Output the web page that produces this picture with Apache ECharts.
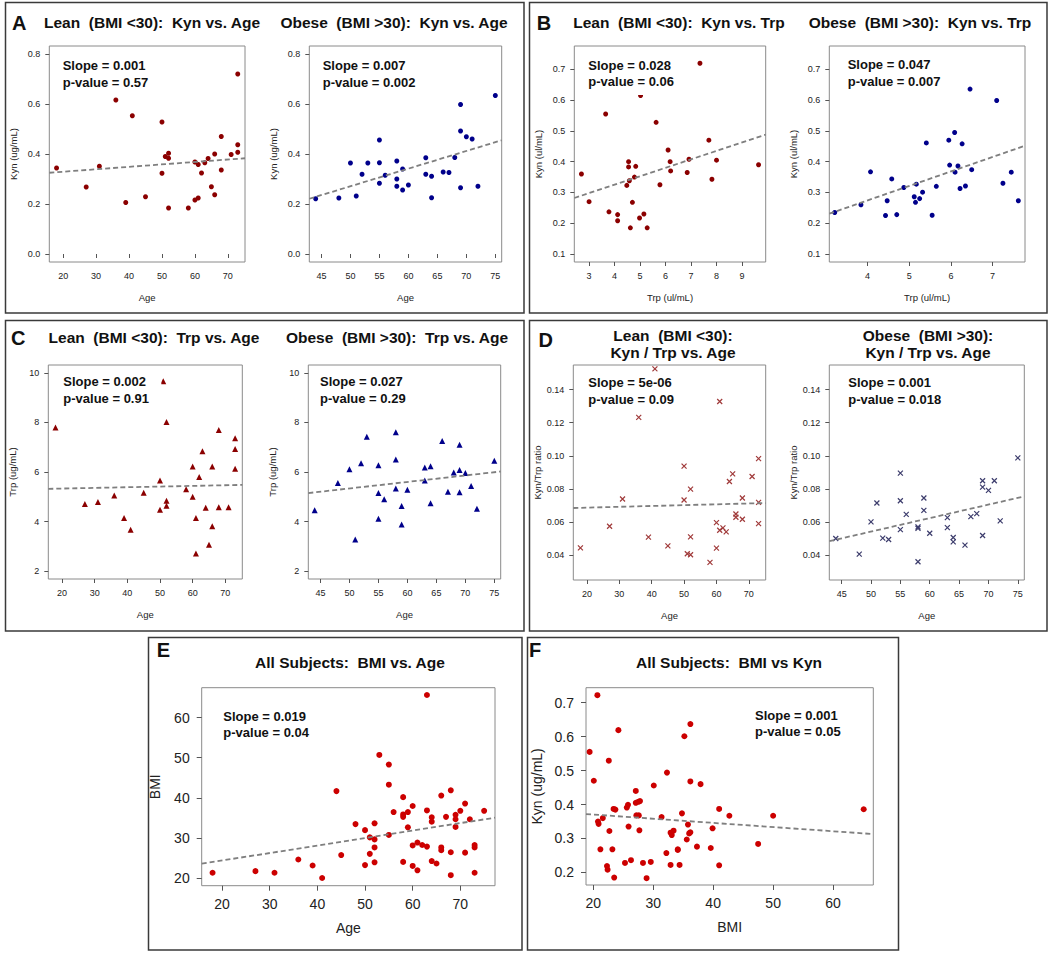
<!DOCTYPE html>
<html><head><meta charset="utf-8">
<script src="https://cdn.jsdelivr.net/npm/echarts@6/dist/echarts.min.js"></script>
<style>html,body{margin:0;padding:0;background:#fff}#c{width:1050px;height:953px}</style>
</head><body><div id="c"></div>
<script>
// ---------------- DATA ----------------
// A: Kyn vs Age
const A_lean_age = [18,27,31,36,39,41,45,50,50,51,52,52,52,58,60,60,61,61,62,63,64,65,66,66,68,68,71,73,73,73];
const A_lean_kyn = [0.344,0.268,0.351,0.616,0.206,0.553,0.229,0.528,0.323,0.39,0.403,0.383,0.184,0.184,0.368,0.216,0.358,0.224,0.324,0.365,0.382,0.269,0.4,0.237,0.47,0.336,0.398,0.72,0.437,0.407];
const A_lean_fit = [[15.8,0.325],[75.2,0.383]];
const A_obese_age = [44,48,50,51,52,53,55,55,55,56,58,58,58,59,59,60,63,63,64,64,66,67,68,69,69,69,70,71,72,75];
const A_obese_kyn = [0.221,0.224,0.364,0.232,0.319,0.364,0.456,0.365,0.283,0.315,0.372,0.30,0.271,0.34,0.256,0.276,0.385,0.319,0.311,0.225,0.328,0.326,0.386,0.598,0.492,0.265,0.469,0.46,0.271,0.634];
const A_obese_fit = [[42.9,0.221],[76.1,0.455]];
// B: Kyn vs Trp
const B_lean_trp = [2.7,3.0,3.65,3.78,4.12,4.12,4.48,4.55,4.55,4.58,4.62,4.7,4.78,4.83,4.98,5.02,5.15,5.28,5.63,5.78,6.1,6.18,6.2,6.85,6.92,7.35,7.7,7.82,8.0,9.65];
const B_lean_kyn = [0.36,0.27,0.555,0.237,0.228,0.208,0.323,0.40,0.383,0.338,0.185,0.268,0.35,0.385,0.217,0.615,0.23,0.185,0.528,0.325,0.438,0.40,0.37,0.365,0.408,0.72,0.47,0.343,0.405,0.39];
const B_lean_fit = [[2.42,0.282],[9.93,0.488]];
const B_obese_trp = [3.21,3.84,4.07,4.43,4.47,4.58,4.7,4.87,5.12,5.15,5.17,5.25,5.32,5.41,5.55,5.65,5.95,5.97,6.09,6.1,6.17,6.22,6.27,6.35,6.46,6.5,7.1,7.25,7.45,7.62];
const B_obese_kyn = [0.235,0.26,0.367,0.225,0.273,0.344,0.228,0.316,0.286,0.268,0.327,0.28,0.301,0.461,0.226,0.32,0.47,0.389,0.495,0.366,0.386,0.313,0.458,0.321,0.636,0.374,0.599,0.33,0.366,0.273];
const B_obese_fit = [[3.08,0.231],[7.78,0.452]];
// C: Trp vs Age
const C_lean_age = [18,27,31,36,39,41,45,50,50,51,52,52,52,58,60,60,61,61,62,63,64,65,66,66,68,68,71,73,73,73];
const C_lean_trp = [7.8,4.71,4.79,5.05,4.14,3.67,5.16,5.66,4.48,9.66,8.02,4.84,4.64,5.3,6.22,5.0,4.14,2.71,5.8,6.84,4.56,3.06,6.22,3.81,7.7,4.58,4.58,7.36,6.93,6.13];
const C_lean_fit = [[15.8,5.32],[75.2,5.48]];
const C_obese_age = [44,48,50,51,52,53,55,55,55,56,58,58,58,59,59,60,63,63,64,64,66,67,68,69,69,69,70,71,72,75];
const C_obese_trp = [4.46,5.56,6.11,3.27,6.35,7.42,6.27,5.15,4.11,4.9,7.6,6.5,5.33,4.63,3.88,5.28,6.18,5.66,6.23,4.74,7.25,5.2,5.98,7.1,6.08,5.18,5.96,5.43,4.52,6.45];
const C_obese_fit = [[42.9,5.15],[76.1,6.02]];
// D: Kyn/Trp vs Age
const D_lean_age = [18,27,31,36,39,41,45,50,50,51,52,52,52,58,60,60,61,61,62,63,64,65,66,66,68,68,71,73,73,73];
const D_lean_ratio = [0.0446,0.0576,0.074,0.1232,0.051,0.1525,0.0458,0.0938,0.0734,0.041,0.080,0.0512,0.0404,0.0358,0.0598,0.0444,0.1328,0.0552,0.0566,0.0542,0.0846,0.0892,0.065,0.063,0.0746,0.0618,0.0876,0.0984,0.072,0.0592];
const D_lean_fit = [[15.8,0.0686],[75.2,0.0716]];
const D_obese_age = [44,48,50,51,52,53,55,55,55,56,58,58,58,59,59,60,63,63,64,64,66,67,68,69,69,69,70,71,72,75];
const D_obese_ratio = [0.0502,0.0408,0.0602,0.0716,0.0504,0.0496,0.0896,0.073,0.0556,0.0648,0.0572,0.0564,0.0362,0.0746,0.0672,0.0534,0.0628,0.0568,0.0508,0.0482,0.0462,0.0634,0.0652,0.085,0.0812,0.052,0.0792,0.085,0.0608,0.0988];
const D_obese_fit = [[42.9,0.0486],[76.1,0.0756]];
// E: BMI vs Age (all subjects)
const E_age = [18,27,31,36,39,41,44,45,48,50,50,51,51,52,52,52,52,53,55,55,55,56,58,58,58,58,59,59,60,60,60,61,61,62,63,63,63,64,64,64,65,66,66,66,67,68,68,68,69,69,69,70,71,71,72,73,73,73,75];
const E_bmi = [21.4,21.8,21.4,24.7,23.2,20.1,41.7,25.8,33.5,32.0,23.3,30.2,26.1,33.7,29.7,27.7,24.0,50.7,48.3,43.3,30.8,36.5,40.2,35.9,35.3,24.1,36.5,32.7,38.0,28.2,23.1,28.9,22.0,28.3,65.6,36.9,27.9,35.2,34.1,24.3,23.7,40.6,27.7,27.0,35.3,41.9,26.5,20.8,35.8,34.7,32.8,36.8,38.6,26.4,34.7,28.3,27.7,21.4,36.8];
const E_fit = [[15.72,23.65],[77.28,35.1]];
// F: Kyn vs BMI (all subjects)
const F_bmi = [19.4,20.1,20.7,20.8,20.9,21.2,21.6,22.3,22.4,22.6,22.7,23.2,23.4,23.5,23.7,24.2,25.3,25.6,25.8,25.9,26.3,27.1,27.1,27.2,27.5,27.6,27.7,27.8,28.3,28.9,29.6,30.1,31.4,32.2,32.3,32.9,33.1,32.9,33.4,34.1,34.1,34.4,34.8,35.2,35.6,35.8,36.2,36.2,36.0,36.2,37.3,37.9,39.6,39.9,41.0,41.0,42.7,47.5,50.0,65.1];
const F_kyn = [0.555,0.47,0.722,0.35,0.343,0.268,0.36,0.219,0.208,0.529,0.322,0.268,0.387,0.185,0.385,0.619,0.228,0.391,0.399,0.335,0.236,0.44,0.405,0.368,0.408,0.368,0.324,0.41,0.228,0.183,0.231,0.456,0.363,0.257,0.494,0.317,0.31,0.222,0.323,0.268,0.266,0.222,0.374,0.601,0.297,0.341,0.637,0.468,0.315,0.318,0.276,0.46,0.272,0.33,0.387,0.221,0.367,0.284,0.367,0.386];
const F_fit = [[18.8,0.372],[66.7,0.313]];

// tick values
const AGE_TICKS = [20,30,40,50,60,70];
const AGE_TICKS_OBESE = [45,50,55,60,65,70,75];
const KYN_TICKS_A = [0.0,0.2,0.4,0.6,0.8];
const TRP_TICKS_B_LEAN = [3,4,5,6,7,8,9];
const TRP_TICKS_B_OBESE = [4,5,6,7];
const KYN_TICKS_B = [0.1,0.2,0.3,0.4,0.5,0.6,0.7];
const TRP_TICKS_C = [2,4,6,8,10];
const RATIO_TICKS_D = [0.04,0.06,0.08,0.10,0.12,0.14];
const BMI_TICKS_E = [20,30,40,50,60];
const BMI_TICKS_F = [20,30,40,50,60];
const KYN_TICKS_F = [0.2,0.3,0.4,0.5,0.6,0.7];

// annotation texts
const TITLES = [
  ['Lean  (BMI <30):  Kyn vs. Age', 152, 22.7],
  ['Obese  (BMI >30):  Kyn vs. Age', 394, 22.7],
  ['Lean  (BMI <30):  Kyn vs. Trp', 679, 22.7],
  ['Obese  (BMI >30):  Kyn vs. Trp', 920, 22.7],
  ['Lean  (BMI <30):  Trp vs. Age', 154, 337.7],
  ['Obese  (BMI >30):  Trp vs. Age', 397, 337.7],
  ['Lean  (BMI <30):', 673, 335],
  ['Kyn / Trp vs. Age', 673, 352.7],
  ['Obese  (BMI >30):', 928, 335],
  ['Kyn / Trp vs. Age', 928, 352.7],
  ['All Subjects:  BMI vs. Age', 350, 662.7],
  ['All Subjects:  BMI vs Kyn', 729, 662.7]
];
const LETTERS = [['A',19.3,22.7],['B',544,22.7],['C',18.3,338.3],['D',545.7,340],['E',163.3,650],['F',535,650]];
const STATS = [
  ['Slope = 0.001','p-value = 0.57'],
  ['Slope = 0.007','p-value = 0.002'],
  ['Slope = 0.028','p-value = 0.06'],
  ['Slope = 0.047','p-value = 0.007'],
  ['Slope = 0.002','p-value = 0.91'],
  ['Slope = 0.027','p-value = 0.29'],
  ['Slope = 5e-06','p-value = 0.09'],
  ['Slope = 0.001','p-value = 0.018'],
  ['Slope = 0.019','p-value = 0.04'],
  ['Slope = 0.001','p-value = 0.05']
];

// ---------------- LAYOUT / STYLE ----------------
const FONT = '"Liberation Sans", Arial, Helvetica, sans-serif';
const LEAN = '#8b0000', OBESE = '#00008b', ALLC = '#cc0000';
const XMARK = 'path://M0,0L10,10M10,0L0,10';

const P = [
 {g:[49.3,46,195.7,216], xr:[15.8,75.2], xt:AGE_TICKS, yr:[-0.032,0.832], yt:KYN_TICKS_A, yd:1, xn:'Age', yn:'Kyn (ug/mL)', xs:A_lean_age, ys:A_lean_kyn, fit:A_lean_fit, sym:'circle', ss:5, col:LEAN, lg:[62.7,65.7]},
 {g:[309.3,46,192.4,216], xr:[42.9,76.1], xt:AGE_TICKS_OBESE, yr:[-0.032,0.832], yt:KYN_TICKS_A, yd:1, xn:'Age', yn:'Kyn (ug/mL)', xs:A_obese_age, ys:A_obese_kyn, fit:A_obese_fit, sym:'circle', ss:5, col:OBESE, lg:[322.7,65.7]},
 {g:[574.3,46,191.4,216], xr:[2.42,9.93], xt:TRP_TICKS_B_LEAN, yr:[0.074,0.776], yt:KYN_TICKS_B, yd:1, xn:'Trp (ul/mL)', yn:'Kyn (ul/mL)', xs:B_lean_trp, ys:B_lean_kyn, fit:B_lean_fit, sym:'circle', ss:5, col:LEAN, lg:[588.3,65]},
 {g:[829.3,46,195.7,216], xr:[3.08,7.78], xt:TRP_TICKS_B_OBESE, yr:[0.074,0.776], yt:KYN_TICKS_B, yd:1, xn:'Trp (ul/mL)', yn:'Kyn (ul/mL)', xs:B_obese_trp, ys:B_obese_kyn, fit:B_obese_fit, sym:'circle', ss:5, col:OBESE, lg:[847.7,64.5]},
 {g:[48.3,365,194,214], xr:[15.8,75.2], xt:AGE_TICKS, yr:[1.68,10.32], yt:TRP_TICKS_C, yd:0, xn:'Age', yn:'Trp (ug/mL)', xs:C_lean_age, ys:C_lean_trp, fit:C_lean_fit, sym:'triangle', ss:6, col:LEAN, lg:[63.3,381.7]},
 {g:[308.3,365,192.4,214], xr:[42.9,76.1], xt:AGE_TICKS_OBESE, yr:[1.68,10.32], yt:TRP_TICKS_C, yd:0, xn:'Age', yn:'Trp (ug/mL)', xs:C_obese_age, ys:C_obese_trp, fit:C_obese_fit, sym:'triangle', ss:6, col:OBESE, lg:[320,381.7]},
 {g:[573.3,365,192.4,215], xr:[15.8,75.2], xt:AGE_TICKS, yr:[0.0252,0.1548], yt:RATIO_TICKS_D, yd:2, xn:'Age', yn:'Kyn/Trp ratio', xs:D_lean_age, ys:D_lean_ratio, fit:D_lean_fit, sym:XMARK, ss:5, col:'#a03a3a', xm:true, lg:[588.3,382.7]},
 {g:[829.3,365,195,215], xr:[42.9,76.1], xt:AGE_TICKS_OBESE, yr:[0.0252,0.1548], yt:RATIO_TICKS_D, yd:2, xn:'Age', yn:'Kyn/Trp ratio', xs:D_obese_age, ys:D_obese_ratio, fit:D_obese_fit, sym:XMARK, ss:5, col:'#3c3c6c', xm:true, lg:[848.3,382.7]},
 {g:[201.7,687.7,293.3,198], xr:[15.72,77.28], xt:AGE_TICKS, yr:[18.18,67.42], yt:BMI_TICKS_E, yd:0, xn:'Age', yn:'BMI', xs:E_age, ys:E_bmi, fit:E_fit, sym:'circle', ss:6, col:ALLC, big:true, lg:[223.3,716]},
 {g:[586,687.7,287.3,197.3], xr:[18.8,66.7], xt:BMI_TICKS_F, yr:[0.163,0.744], yt:KYN_TICKS_F, yd:1, xn:'BMI', yn:'Kyn (ug/mL)', xs:F_bmi, ys:F_kyn, fit:F_fit, sym:'circle', ss:6, col:ALLC, big:true, lg:[755,715]}
];

const grids = [], xAxes = [], yAxes = [], series = [], graphics = [];
P.forEach((p, i) => {
  const big = !!p.big;
  const tickFs = big ? 14 : 9;
  const nameFs = big ? 14 : 9.5;
  grids.push({left:p.g[0], top:p.g[1], width:p.g[2], height:p.g[3], show:true, borderColor:'#8a8a8a', borderWidth:1, backgroundColor:'#fff'});
  xAxes.push({
    gridIndex:i, type:'value', min:p.xr[0], max:p.xr[1],
    axisLine:{show:false}, splitLine:{show:false},
    axisTick:{show:true, customValues:p.xt, length:big?5:4, lineStyle:{color:'#555'}},
    axisLabel:{customValues:p.xt, fontSize:tickFs, color:'#222', fontFamily:FONT, margin:big?11:9,
      formatter:v => String(v)},
    name:p.xn, nameLocation:'middle', nameGap:big?35:30,
    nameTextStyle:{fontSize:nameFs, color:'#222', fontFamily:FONT}
  });
  yAxes.push({
    gridIndex:i, type:'value', min:p.yr[0], max:p.yr[1],
    axisLine:{show:false}, splitLine:{show:false},
    axisTick:{show:true, customValues:p.yt, length:big?5:4, lineStyle:{color:'#555'}},
    axisLabel:{customValues:p.yt, fontSize:tickFs, color:'#222', fontFamily:FONT, margin:big?12:9,
      formatter:(d => v => Number(v).toFixed(d))(p.yd)},
    name:p.yn, nameLocation:'middle', nameGap:big?(p.yn==='BMI'?40:42):31, nameRotate:90,
    nameTextStyle:{fontSize:nameFs, color:'#222', fontFamily:FONT}
  });
  series.push({
    type:'scatter', xAxisIndex:i, yAxisIndex:i, silent:true, animation:false,
    data:p.xs.map((v,k)=>[v,p.ys[k]]),
    symbol:p.sym, symbolSize:p.ss,
    itemStyle: p.xm ? {color:'none', borderColor:p.col, borderWidth:1.2, opacity:1} : {color:p.col, opacity:1},
    z:2
  });
  series.push({
    type:'line', xAxisIndex:i, yAxisIndex:i, silent:true, animation:false,
    data:p.fit, symbol:'none', showSymbol:false,
    lineStyle:{type:[5,3], color:'#7f7f7f', width:1.8}, z:3
  });
  // legend box (white background, like R legend) + stats text
  graphics.push({type:'rect', z:50, shape:{x:p.lg[0]-6, y:p.lg[1]-11, width:104, height:41}, style:{fill:'#fff'}});
  graphics.push({type:'text', z:51, x:p.lg[0], y:p.lg[1], style:{text:STATS[i][0], font:'bold 13px '+FONT, fill:'#111', align:'left', verticalAlign:'middle'}});
  graphics.push({type:'text', z:51, x:p.lg[0], y:p.lg[1]+16.6, style:{text:STATS[i][1], font:'bold 13px '+FONT, fill:'#111', align:'left', verticalAlign:'middle'}});
});

// panel borders
[[5.5,2.5,518.5,310.5],[529.5,2.5,517.5,310.5],[5.5,320.5,518.5,310.5],[529.5,320.5,517.5,310.5],[148.5,637.5,373.5,312.5],[527.5,637.5,371,312.5]]
  .forEach(r => graphics.push({type:'rect', z:60, shape:{x:r[0],y:r[1],width:r[2],height:r[3]}, style:{fill:'none', stroke:'#3a3a3a', lineWidth:1.5}}));
TITLES.forEach(t => graphics.push({type:'text', z:60, x:t[1], y:t[2], style:{text:t[0], font:'bold 15.5px '+FONT, fill:'#111', align:'center', verticalAlign:'middle'}}));
LETTERS.forEach(t => graphics.push({type:'text', z:60, x:t[1], y:t[2], style:{text:t[0], font:'bold 20px '+FONT, fill:'#111', align:'center', verticalAlign:'middle'}}));

const chart = echarts.init(document.getElementById('c'), null, {renderer:'svg'});
chart.setOption({
  animation:false, backgroundColor:'#fff',
  grid:grids, xAxis:xAxes, yAxis:yAxes, series:series, graphic:graphics
});
</script></body></html>
